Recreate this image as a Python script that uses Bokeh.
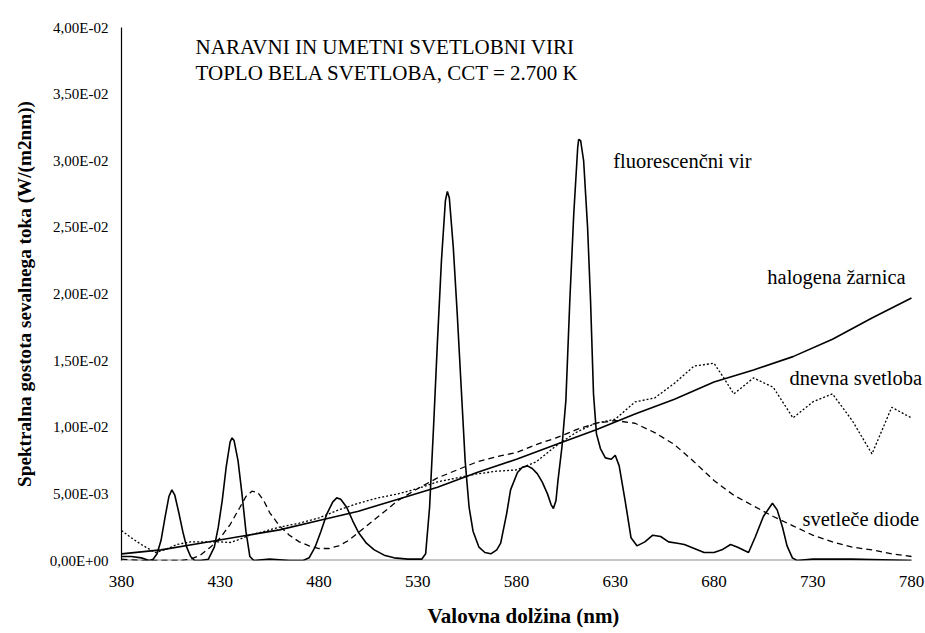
from bokeh.plotting import figure
from bokeh.models import FixedTicker, Range1d, Label
from bokeh.embed import file_html
from bokeh.resources import INLINE

# ---------------- data ----------------
x_ticks = [380, 430, 480, 530, 580, 630, 680, 730, 780]
y_ticks = [0.0, 0.005, 0.010, 0.015, 0.020, 0.025, 0.030, 0.035, 0.040]
y_tick_labels = ["0,00E+00", "5,00E-03", "1,00E-02", "1,50E-02", "2,00E-02",
                 "2,50E-02", "3,00E-02", "3,50E-02", "4,00E-02"]

# halogena žarnica (solid, smooth)
hal_nm = [380, 400, 420, 440, 460, 480, 500, 520, 540, 560, 580, 600, 620,
          640, 660, 680, 700, 720, 740, 760, 780]
hal = [0.0005, 0.0008, 0.0013, 0.0018, 0.0023, 0.0030, 0.0037, 0.0046, 0.0055,
       0.0066, 0.0076, 0.0087, 0.0098, 0.0110, 0.0121, 0.0134, 0.0143, 0.0153,
       0.0166, 0.0182, 0.0197]

# dnevna svetloba (dotted)
day_nm = [380, 385, 390, 397, 402, 408, 415, 422, 430, 435, 440, 445, 450, 460,
          470, 480, 490, 500, 510, 520, 530, 540, 550, 560, 570, 580, 590, 600,
          610, 620, 630, 640, 650, 660, 670, 680, 685, 690, 700, 710, 720, 730,
          740, 750, 760, 770, 780]
day = [0.00225, 0.0017, 0.0012, 0.0006, 0.0008, 0.0012, 0.0014, 0.0014, 0.0014,
       0.00135, 0.0016, 0.0019, 0.0021, 0.0025, 0.0028, 0.0032, 0.0038, 0.0043,
       0.0047, 0.0050, 0.0054, 0.0059, 0.0062, 0.0065, 0.0067, 0.0068, 0.0074,
       0.0086, 0.0096, 0.0103, 0.0106, 0.0119, 0.0122, 0.0133, 0.0146, 0.0148,
       0.0137, 0.0125, 0.0137, 0.0130, 0.0107, 0.0119, 0.0125, 0.0105, 0.0080,
       0.0115, 0.0107]

# svetleče diode (dashed)
led_nm = [380, 390, 400, 410, 415, 420, 425, 430, 435, 440, 443, 446, 449, 452,
          455, 460, 465, 470, 475, 480, 485, 490, 495, 500, 510, 520, 530, 540,
          550, 560, 570, 580, 590, 600, 610, 620, 630, 640, 650, 660, 670, 680,
          690, 700, 710, 720, 730, 740, 750, 760, 770, 780]
led = [0.0001, 0.0000, 0.0000, 0.0000, 0.0001, 0.0004, 0.0010, 0.0017, 0.0027,
       0.0040, 0.0048, 0.0052, 0.0051, 0.0045, 0.0036, 0.0026, 0.0019, 0.0014,
       0.0011, 0.0009, 0.0009, 0.0011, 0.0015, 0.0021, 0.0033, 0.0045, 0.0054,
       0.0062, 0.0068, 0.0074, 0.0078, 0.0081, 0.0087, 0.0092, 0.0098, 0.0103,
       0.0105, 0.0103, 0.0096, 0.0087, 0.0074, 0.0060, 0.0049, 0.0041, 0.0033,
       0.0026, 0.0019, 0.0014, 0.0010, 0.0008, 0.0005, 0.0003]

# fluorescenčni vir (solid, line spectrum)
flu_nm = [380, 385, 390, 394, 396, 398, 400, 402, 404, 405.5, 407, 409, 411, 413,
          415, 417, 420, 424, 427, 429, 431, 433, 435, 436, 437, 439, 441, 443,
          445, 447, 455, 465, 472, 475, 478, 481, 484, 487, 489, 491, 494, 497,
          500, 504, 508, 513, 518, 525, 532, 534, 536, 538, 540, 542, 544, 545,
          546, 548, 550, 552, 554, 556, 558, 561, 564, 567, 570, 572, 575, 577,
          580.5, 583, 585.5, 588, 590.6, 593, 595.7, 597.5, 598.7, 600, 601, 603,
          605, 607, 609, 611, 611.5, 612.5, 614, 616, 617.5, 619, 620.5, 622.5,
          625, 628, 630, 632, 635, 638, 641, 645, 649, 653, 657, 661.5, 665, 670,
          675, 680, 684, 688.4, 692, 697.5, 701, 705, 709.6, 712, 714.7, 717,
          719.7, 722, 730, 750, 780]
flu = [0.0003, 0.0003, 0.0002, 0.0000, 0.0001, 0.0005, 0.0015, 0.0032, 0.0048,
       0.0053, 0.0049, 0.0036, 0.0022, 0.0010, 0.0003, 0.0000, 0.0000, 0.0001,
       0.0010, 0.0025, 0.0045, 0.0070, 0.0089, 0.0092, 0.0090, 0.0075, 0.0050,
       0.0022, 0.0003, 0.0000, 0.0001, 0.0000, 0.0000, 0.0002, 0.0010, 0.0022,
       0.0035, 0.0044, 0.0047, 0.0046, 0.0040, 0.0030, 0.0021, 0.0013, 0.0008,
       0.0004, 0.0002, 0.0001, 0.0001, 0.0005, 0.0040, 0.0100, 0.0165, 0.0225,
       0.0270, 0.0277, 0.0272, 0.0235, 0.0185, 0.0130, 0.0075, 0.0040, 0.0022,
       0.0010, 0.0006, 0.0005, 0.0008, 0.0013, 0.0035, 0.0053, 0.0066, 0.0070,
       0.0071, 0.0069, 0.0065, 0.0059, 0.0050, 0.0042, 0.0039, 0.0045, 0.0060,
       0.0085, 0.0120, 0.0195, 0.0260, 0.0310, 0.0316, 0.0315, 0.0300, 0.0250,
       0.0195, 0.0125, 0.0095, 0.0084, 0.0077, 0.0076, 0.0079, 0.0071, 0.0045,
       0.0017, 0.0011, 0.0014, 0.0019, 0.0018, 0.0014, 0.0013, 0.0012, 0.0009,
       0.0006, 0.0006, 0.0008, 0.0012, 0.0010, 0.0006, 0.0018, 0.0033, 0.0043,
       0.0038, 0.0025, 0.0011, 0.0002, 0.0000, 0.0001, 0.0001, 0.0000]

title_lines = ["NARAVNI IN UMETNI SVETLOBNI VIRI",
               "TOPLO BELA SVETLOBA,  CCT = 2.700 K"]
series_labels = ["fluorescenčni vir", "halogena žarnica",
                 "dnevna svetloba", "svetleče diode"]
x_title = "Valovna dolžina (nm)"
y_title = "Spektralna gostota sevalnega toka (W/(m2nm))"

# ---------------- figure ----------------
SERIF = "Liberation Serif"

# frame extends a little past 780 nm so that the right-hand labels have room
p = figure(width=925, height=633, output_backend="svg", toolbar_location=None,
           x_range=Range1d(380, 787.1), y_range=Range1d(0, 0.04),
           min_border_left=121, min_border_right=0, min_border_top=27,
           min_border_bottom=73)
p.outline_line_color = None
p.xgrid.visible = False
p.ygrid.visible = False
p.background_fill_color = "white"
p.border_fill_color = "white"

# x axis
xa = p.xaxis[0]
xa.ticker = FixedTicker(ticks=x_ticks)
xa.major_tick_out = 0
xa.major_tick_in = 0
xa.minor_tick_out = 0
xa.minor_tick_in = 0
xa.axis_line_color = None
xa.major_label_text_font = SERIF
xa.major_label_text_font_size = "17px"
xa.major_label_text_color = "black"
xa.major_label_standoff = 15
xa.axis_label = x_title
xa.axis_label_text_font = SERIF
xa.axis_label_text_font_style = "bold"
xa.axis_label_text_font_size = "21px"
xa.axis_label_text_color = "black"
xa.axis_label_standoff = 14

# y axis
ya = p.yaxis[0]
ya.ticker = FixedTicker(ticks=y_ticks)
ya.major_label_overrides = {t: s for t, s in zip(y_ticks, y_tick_labels)}
ya.major_tick_out = 0
ya.major_tick_in = 0
ya.minor_tick_out = 0
ya.minor_tick_in = 0
ya.axis_line_color = "black"
ya.axis_line_width = 1.2
ya.major_label_text_font = SERIF
ya.major_label_text_font_size = "15px"
ya.major_label_text_color = "black"
ya.major_label_standoff = 13
ya.axis_label = y_title
ya.axis_label_text_font = SERIF
ya.axis_label_text_font_style = "bold"
ya.axis_label_text_font_size = "19.2px"
ya.axis_label_text_color = "black"
ya.axis_label_standoff = 12

# grey category-axis baseline from the first to the last tick
p.line([x_ticks[0], x_ticks[-1]], [y_ticks[0], y_ticks[0]],
       line_color="#8c8c8c", line_width=2)

# lines
p.line(hal_nm, hal, line_color="black", line_width=1.6)
p.line(day_nm, day, line_color="black", line_width=1.3, line_dash="2 2")
p.line(led_nm, led, line_color="black", line_width=1.3, line_dash="6 4")
p.line(flu_nm, flu, line_color="black", line_width=1.6)

# title
for t, yy in zip(title_lines, [0.0385, 0.03655]):
    p.add_layout(Label(x=417.5, y=yy, text=t, text_font=SERIF,
                       text_font_size="21px", text_color="black",
                       text_baseline="middle", text_align="left"))

# series labels
label_pos = [(629, 0.0300), (707, 0.02124), (718.2, 0.01366), (724.8, 0.00315)]
for t, (xx, yy) in zip(series_labels, label_pos):
    p.add_layout(Label(x=xx, y=yy, text=t, text_font=SERIF,
                       text_font_size="20.5px", text_color="black",
                       text_baseline="middle", text_align="left"))

open("out.html", "w").write(file_html(p, INLINE))
